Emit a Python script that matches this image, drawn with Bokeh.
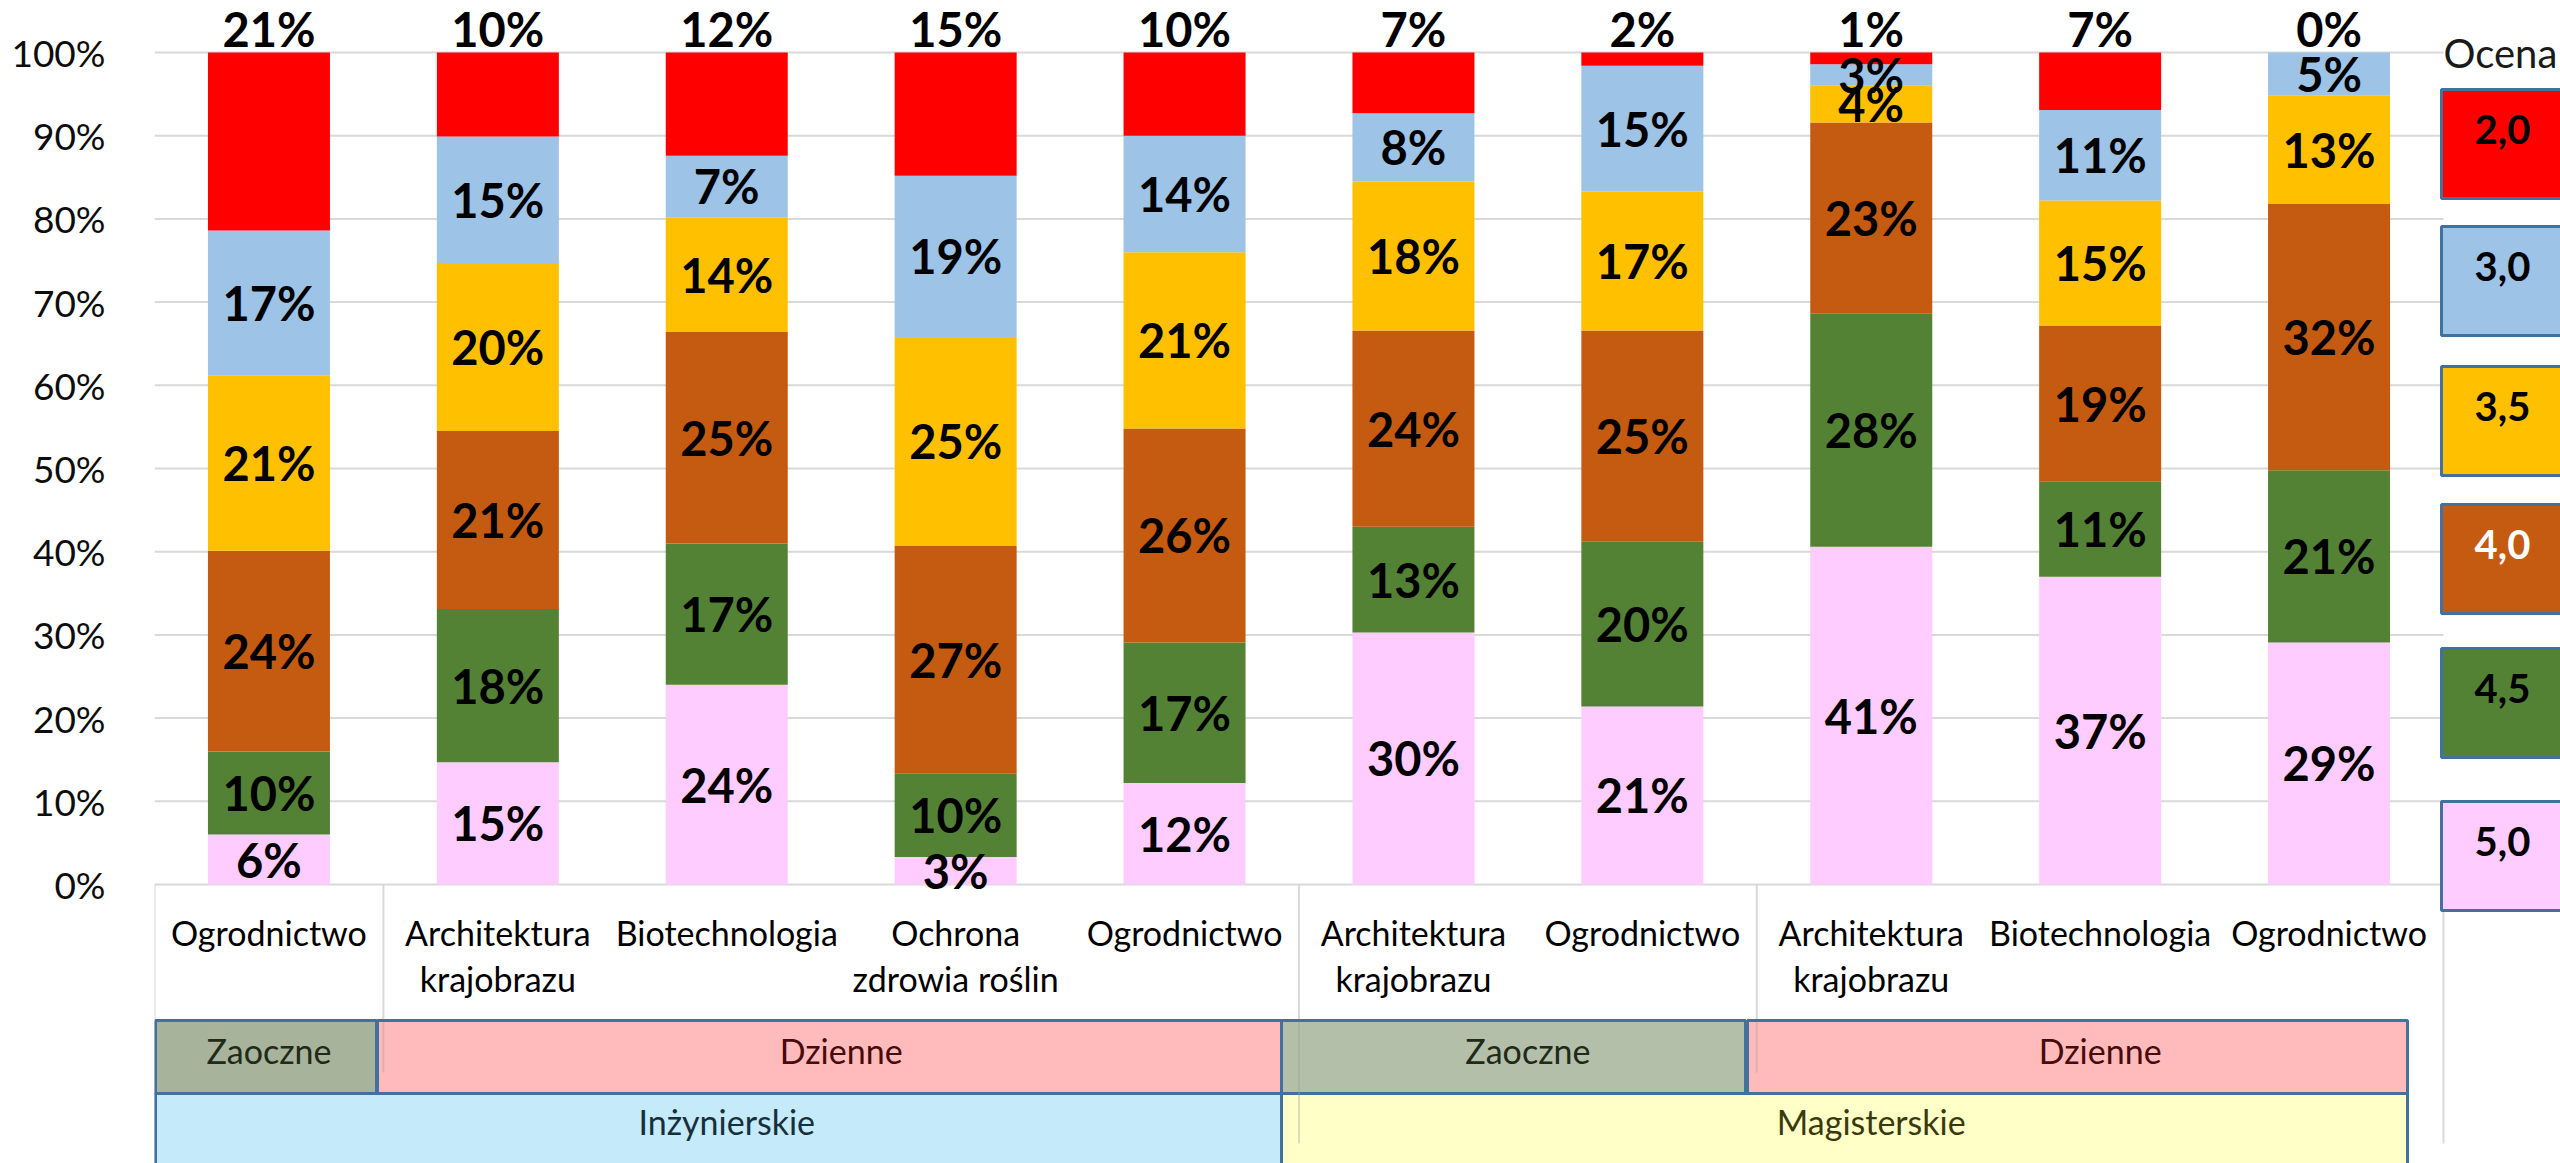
import numpy as np
from bokeh.plotting import figure
from bokeh.models import ColumnDataSource, Range1d, FixedTicker, PrintfTickFormatter
from bokeh.core.properties import value
from bokeh.embed import file_html
from bokeh.resources import INLINE

# ---------------- data ----------------
categories = ["Ogrodnictwo", "Architektura\nkrajobrazu", "Biotechnologia",
              "Ochrona\nzdrowia roślin", "Ogrodnictwo", "Architektura\nkrajobrazu",
              "Ogrodnictwo", "Architektura\nkrajobrazu", "Biotechnologia", "Ogrodnictwo"]
study_mode = ["Zaoczne", "Dzienne", "Dzienne", "Dzienne", "Dzienne",
              "Zaoczne", "Zaoczne", "Dzienne", "Dzienne", "Dzienne"]
degree = ["Inżynierskie"] * 5 + ["Magisterskie"] * 5
grades = ["2,0", "3,0", "3,5", "4,0", "4,5", "5,0"]
legend_title = "Ocena"

grade_20 = [21.4, 10.1, 12.4, 14.8, 10.0, 7.3, 1.6, 1.4, 6.9, 0.0]
grade_30 = [17.4, 15.2, 7.4, 19.4, 14.0, 8.2, 15.1, 2.6, 10.9, 5.2]
grade_35 = [21.1, 20.2, 13.8, 25.1, 21.2, 17.9, 16.7, 4.4, 15.0, 13.0]
grade_40 = [24.1, 21.4, 25.4, 27.4, 25.7, 23.6, 25.4, 23.0, 18.8, 32.0]
grade_45 = [10.0, 18.4, 17.0, 10.0, 16.9, 12.7, 19.8, 28.0, 11.4, 20.7]
grade_50 = [6.0, 14.7, 24.0, 3.3, 12.2, 30.3, 21.4, 40.6, 37.0, 29.1]

y_ticks = [0, 10, 20, 30, 40, 50, 60, 70, 80, 90, 100]

# ---------------- styles / layout ----------------
grade_colors = {"2,0": "#FF0000", "3,0": "#9DC3E6", "3,5": "#FFC000",
                "4,0": "#C55A11", "4,5": "#548235", "5,0": "#FFCCFF"}
legend_text_colors = {"2,0": "#000000", "3,0": "#000000", "3,5": "#000000",
                      "4,0": "#FFFFFF", "4,5": "#000000", "5,0": "#000000"}
FONT = "Lato"
W, H = 2560, 1163
PAGE = 0
FRAME_L = 154          # page px of category axis start
CAT_PX = 228.9         # px per category
ZERO_Y = 884           # page px of 0 %
PX_PER_PCT = 8.32


def ux(px):
    return (px - FRAME_L) / CAT_PX


def vy(py):
    return (ZERO_Y - py) / PX_PER_PCT


BAR_W = 0.533
GRID_COLOR = "#D9D9D9"
BOX_LINE = "#41719C"

# hand drawn overlay boxes of the reference (page px)
row2_boxes = [(155, 376, "#A7B39B"), (377, 1281, "#FFBBBB"),
              (1281, 1745, "#B3BFA9"), (1747, 2407, "#FFBBBB")]
row3_boxes = [(155, 1281, "#C5EAFA"), (1281, 2407, "#FFFFC8")]
group_text_colors = {"Zaoczne": "#1F2A18", "Dzienne": "#470B0B",
                     "Inżynierskie": "#15303C", "Magisterskie": "#3A390C"}
leg_tops_px = [89, 226, 366, 504, 648, 801]
LEG_H_PX = 109

# ---------------- figure ----------------
n = len(categories)
x = np.arange(n) + 0.5
p = figure(width=W, height=H, output_backend="svg", toolbar_location=None,
           title=None, x_axis_location=None, y_axis_location="left",
           x_range=Range1d(0, ux(W + PAGE)), y_range=Range1d(vy(H + PAGE), vy(PAGE)),
           min_border_left=FRAME_L - PAGE, min_border_right=0,
           min_border_top=0, min_border_bottom=0, tools="")
p.outline_line_color = None
p.xgrid.visible = False
p.ygrid.visible = False
p.background_fill_color = "white"

ax = p.yaxis[0]
ax.ticker = FixedTicker(ticks=y_ticks)
ax.formatter = PrintfTickFormatter(format="%d%%")
ax.axis_line_color = None
ax.major_tick_line_color = None
ax.minor_tick_line_color = None
ax.major_label_text_font = FONT
ax.major_label_text_font_size = "37px"
ax.major_label_text_color = "#0D0D0D"
ax.major_label_standoff = 43

# gridlines
p.segment(x0=[0] * len(y_ticks), x1=[n] * len(y_ticks), y0=y_ticks, y1=y_ticks,
          line_color=GRID_COLOR, line_width=2)

# stacked bars
series = {"2,0": grade_20, "3,0": grade_30, "3,5": grade_35,
          "4,0": grade_40, "4,5": grade_45, "5,0": grade_50}
stack_order = ["5,0", "4,5", "4,0", "3,5", "3,0", "2,0"]
vals = np.array([series[g] for g in stack_order], dtype=float)
vals = vals / vals.sum(axis=0) * 100.0
data = {"x": x}
keys = []
for i, g in enumerate(stack_order):
    k = "g" + g.replace(",", "")
    keys.append(k)
    data[k] = vals[i]
src = ColumnDataSource(data)
p.vbar_stack(keys, x="x", width=BAR_W, source=src,
             fill_color=[grade_colors[g] for g in stack_order], line_color=None)

# data labels
raw = np.array([series[g] for g in stack_order], dtype=float)
cum = np.cumsum(vals, axis=0)
centers = cum - vals / 2
lx, ly, lt = [], [], []
TOP_LABEL_Y = vy(28)
for i, g in enumerate(stack_order):
    for j in range(n):
        lx.append(x[j])
        ly.append(TOP_LABEL_Y if g == "2,0" else centers[i, j])
        lt.append("%d%%" % int(np.floor(raw[i, j] + 0.5)))
p.text(x=lx, y=ly, text=lt, text_font=value(FONT), text_font_style="bold",
       text_font_size="47px", text_align="center", text_baseline="middle",
       text_color="black")

# ---------------- category table ----------------
def runs(keys_list):
    out = []
    s = 0
    for i in range(1, len(keys_list) + 1):
        if i == len(keys_list) or keys_list[i] != keys_list[s]:
            out.append((s, i))
            s = i
    return out

mode_key = list(zip(degree, study_mode))
mode_groups = runs(mode_key)
deg_groups = runs(degree)
deg_bounds = set(e for _, e in deg_groups)
mode_bounds = set(e for _, e in mode_groups) - deg_bounds

# separator lines
sx0, sy0, sy1 = [0], [0], [vy(H + PAGE)]
for b in sorted(deg_bounds):
    sx0.append(b); sy0.append(0); sy1.append(vy(1143))
for b in sorted(mode_bounds):
    sx0.append(b); sy0.append(0); sy1.append(vy(1072))
p.segment(x0=sx0, x1=sx0, y0=sy0, y1=sy1, line_color=GRID_COLOR, line_width=2)

# category labels
l1 = [c.split("\n")[0] for c in categories]
p.text(x=x, y=[vy(932)] * n, text=l1, text_font=value(FONT), text_font_size="34px",
       text_align="center", text_baseline="middle", text_color="black")
x2 = [x[i] for i, c in enumerate(categories) if "\n" in c]
t2 = [c.split("\n")[1] for c in categories if "\n" in c]
p.text(x=x2, y=[vy(978)] * len(x2), text=t2, text_font=value(FONT), text_font_size="34px",
       text_align="center", text_baseline="middle", text_color="black")

# overlay boxes
p.quad(left=[ux(b[0]) for b in row2_boxes], right=[ux(b[1]) for b in row2_boxes],
       top=[vy(1020)] * 4, bottom=[vy(1093)] * 4,
       fill_color=[b[2] for b in row2_boxes], line_color=BOX_LINE, line_width=3)
p.quad(left=[ux(b[0]) for b in row3_boxes], right=[ux(b[1]) for b in row3_boxes],
       top=[vy(1093)] * 2, bottom=[vy(1220)] * 2,
       fill_color=[b[2] for b in row3_boxes], line_color=BOX_LINE, line_width=3)

# separator lines seen through the boxes
inner_x, inner_y1 = [], []
for b in sorted(deg_bounds):
    if b < n:
        inner_x.append(b); inner_y1.append(vy(1143))
for b in sorted(mode_bounds):
    inner_x.append(b); inner_y1.append(vy(1072))
p.segment(x0=inner_x, x1=inner_x, y0=[vy(1022)] * len(inner_x), y1=inner_y1,
          line_color="#9A9A9A", line_alpha=0.35, line_width=2)

# group labels
gx, gy, gt, gc = [], [], [], []
for s, e in mode_groups:
    gx.append((s + e) / 2); gy.append(vy(1050)); gt.append(study_mode[s])
    gc.append(group_text_colors[study_mode[s]])
for s, e in deg_groups:
    gx.append((s + e) / 2); gy.append(vy(1121)); gt.append(degree[s])
    gc.append(group_text_colors[degree[s]])
p.text(x=gx, y=gy, text=gt, text_color=gc, text_font=value(FONT),
       text_font_size="34px", text_align="center", text_baseline="middle")

# ---------------- legend ----------------
p.text(x=[ux(2443)], y=[100], text=[legend_title], text_font=value(FONT),
       text_font_size="40px", text_align="left", text_baseline="middle",
       text_color="#1A1A1A")
p.quad(left=[ux(2441)] * len(grades), right=[ux(2565)] * len(grades),
       top=[vy(t) for t in leg_tops_px], bottom=[vy(t + LEG_H_PX) for t in leg_tops_px],
       fill_color=[grade_colors[g] for g in grades], line_color=BOX_LINE, line_width=3)
p.text(x=[ux(2502)] * len(grades), y=[vy(t + 40) for t in leg_tops_px], text=grades,
       text_color=[legend_text_colors[g] for g in grades], text_font=value(FONT),
       text_font_style="bold", text_font_size="40px", text_align="center",
       text_baseline="middle")

open("out.html", "w").write(file_html(p, INLINE))
